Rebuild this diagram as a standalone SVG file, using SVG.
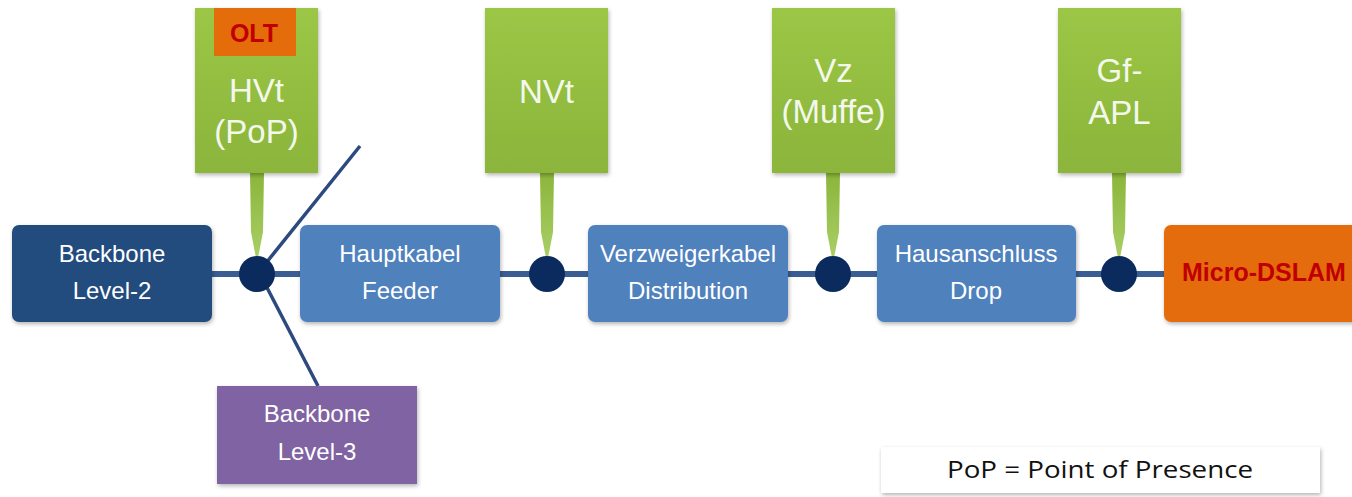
<svg xmlns="http://www.w3.org/2000/svg" width="1352" height="497" viewBox="0 0 1352 497">
<defs>
<linearGradient id="gGreen" x1="0" y1="0" x2="0" y2="1">
<stop offset="0" stop-color="#9cc645"/>
<stop offset="1" stop-color="#8bb53b"/>
</linearGradient>
<linearGradient id="gStem" x1="0" y1="0" x2="0" y2="1">
<stop offset="0" stop-color="#8bb53b"/>
<stop offset="1" stop-color="#a9cf66"/>
</linearGradient>
<filter id="sh" x="-10%" y="-10%" width="125%" height="130%">
<feGaussianBlur in="SourceAlpha" stdDeviation="2"/>
<feOffset dx="1" dy="2" result="b"/>
<feComponentTransfer><feFuncA type="linear" slope="0.3"/></feComponentTransfer>
<feMerge><feMergeNode/><feMergeNode in="SourceGraphic"/></feMerge>
</filter>
</defs>
<style>
.lbl{font-family:"Liberation Sans",Arial,sans-serif;fill:#ffffff;text-anchor:middle}
.box{font-size:24px}
.big{font-size:33px;fill:#f4f8ec}
.red{font-family:"Liberation Sans",Arial,sans-serif;font-weight:bold;fill:#c00000;text-anchor:middle}
.hl{stroke:#3a5d93;stroke-width:6;fill:none}
.dg{stroke:#2c4a7e;stroke-width:3.5;fill:none}
.node{fill:#0b2a5e}
.green{fill:url(#gGreen);filter:url(#sh)}
.stem{fill:url(#gStem)}
</style>
<rect width="1352" height="497" fill="#ffffff"/>

<g id="connectors">
<line class="hl" x1="212" y1="274" x2="300" y2="274"/>
<line class="hl" x1="500" y1="274" x2="588" y2="274"/>
<line class="hl" x1="788" y1="274" x2="877" y2="274"/>
<line class="hl" x1="1076" y1="274" x2="1164" y2="274"/>
<line class="dg" x1="262" y1="268" x2="360" y2="146"/>
<line class="dg" x1="262" y1="278" x2="318" y2="386"/>
<polygon class="stem" points="250,173 264,173 263,232 258,258 256,258 251,232"/>
<polygon class="stem" points="540,173 554,173 553,232 548,258 546,258 541,232"/>
<polygon class="stem" points="826,173 840,173 839,232 834,258 832,258 827,232"/>
<polygon class="stem" points="1112,173 1126,173 1125,232 1120,258 1118,258 1113,232"/>
<circle class="node" cx="257" cy="274" r="18"/>
<circle class="node" cx="547" cy="274" r="18"/>
<circle class="node" cx="833" cy="274" r="18"/>
<circle class="node" cx="1119" cy="274" r="18"/>
</g>

<g id="backbone2">
<rect x="12" y="225" width="200" height="97" rx="7" fill="#234c7e" filter="url(#sh)"/>
<text class="lbl box" x="112" y="262">Backbone</text>
<text class="lbl box" x="112" y="299">Level-2</text>
</g>
<g id="hauptkabel">
<rect x="300" y="225" width="200" height="97" rx="7" fill="#4f81bd" filter="url(#sh)"/>
<text class="lbl box" x="400" y="262">Hauptkabel</text>
<text class="lbl box" x="400" y="299">Feeder</text>
</g>
<g id="verzweigerkabel">
<rect x="588" y="225" width="200" height="97" rx="7" fill="#4f81bd" filter="url(#sh)"/>
<text class="lbl box" x="688" y="262">Verzweigerkabel</text>
<text class="lbl box" x="688" y="299">Distribution</text>
</g>
<g id="hausanschluss">
<rect x="877" y="225" width="199" height="97" rx="7" fill="#4f81bd" filter="url(#sh)"/>
<text class="lbl box" x="976" y="262">Hausanschluss</text>
<text class="lbl box" x="976" y="299">Drop</text>
</g>
<g id="microdslam">
<rect x="1164" y="225" width="200" height="97" rx="7" fill="#e46c0a" filter="url(#sh)"/>
<text class="red" x="1264" y="281" font-size="25">Micro-DSLAM</text>
</g>
<g id="backbone3">
<rect x="217" y="386" width="200" height="98" fill="#8064a2" filter="url(#sh)"/>
<text class="lbl box" x="317" y="422" fill="#f3eef8">Backbone</text>
<text class="lbl box" x="317" y="460" fill="#f3eef8">Level-3</text>
</g>

<g id="hvt">
<rect class="green" x="195" y="8" width="123" height="165"/>
<rect x="214" y="8" width="82" height="48" fill="#e46c0a"/>
<text class="red" x="254" y="42" font-size="25">OLT</text>
<text class="lbl big" x="256.5" y="102">HVt</text>
<text class="lbl big" x="256.5" y="143">(PoP)</text>
</g>
<g id="nvt">
<rect class="green" x="485" y="8" width="123" height="165"/>
<text class="lbl big" x="546.5" y="103">NVt</text>
</g>
<g id="vz">
<rect class="green" x="772" y="8" width="123" height="165"/>
<text class="lbl big" x="833.5" y="82">Vz</text>
<text class="lbl big" x="833.5" y="123">(Muffe)</text>
</g>
<g id="gfapl">
<rect class="green" x="1058" y="8" width="123" height="165"/>
<text class="lbl big" x="1119.5" y="82">Gf-</text>
<text class="lbl big" x="1119.5" y="124">APL</text>
</g>

<g id="legend">
<rect x="881" y="447" width="439" height="46" fill="#ffffff" filter="url(#sh)"/>
<text x="1100" y="478" font-family="'Open Sans','Liberation Sans',sans-serif" font-size="23" fill="#111111" text-anchor="middle" textLength="306" lengthAdjust="spacingAndGlyphs">PoP = Point of Presence</text>
</g>
</svg>
